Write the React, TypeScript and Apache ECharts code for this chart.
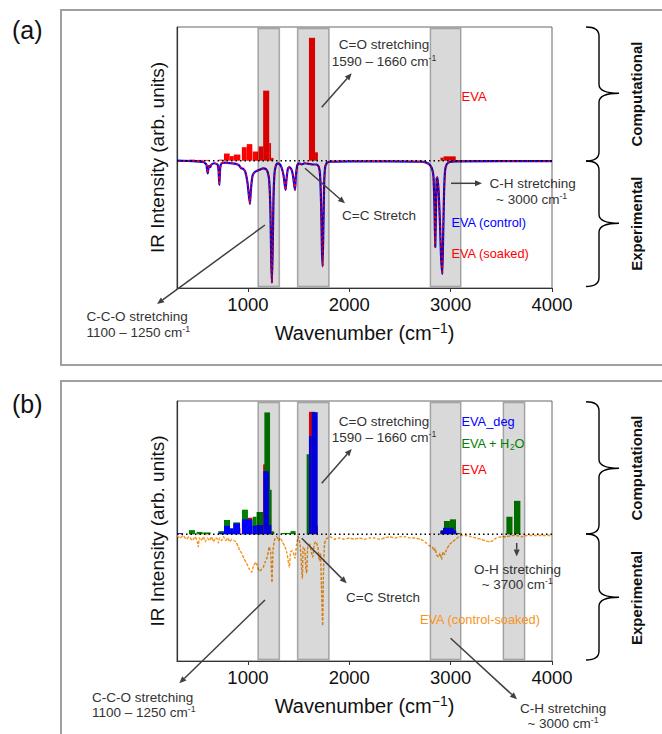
import React, { useEffect, useRef } from 'react';
import * as echarts from 'echarts';

const FF = "'Liberation Sans', Arial, Helvetica, sans-serif";

// x ticks
const xTicks = [1000, 2000, 3000, 4000];

// shaded bands [start, end] in cm-1
const bandsA = [[1100, 1310], [1490, 1800], [2800, 3100]];
const bandsB = [[1100, 1310], [1490, 1800], [2800, 3100], [3520, 3730]];

// computational bars [x0, x1, intensity]
const evaBars = [
  [420, 480, 0.8], [500, 560, 0.6], [560, 625, 0.6], [708, 764, 0.8], [764, 820, 5.6], [820, 860, 3.6],
  [860, 925, 4.8], [940, 988, 10.6], [988, 1043, 13], [1047, 1102, 7.2], [1106, 1150, 11.2], [1150, 1210, 55],
  [1210, 1228, 13.8], [1228, 1252, 2.2], [1602, 1662, 96.5], [1662, 1690, 6.6], [2900, 2930, 2.4], [2930, 3050, 3.4],
];
const h2oBars = [
  [418, 477, 3.2], [494, 553, 1.8], [560, 632, 1.4], [708, 764, 2.4], [764, 823, 11.2], [823, 856, 4.5],
  [856, 922, 9.3], [941, 1000, 19.3], [1000, 1043, 10], [1047, 1085, 13.8], [1085, 1150, 17.5], [1162, 1218, 96],
  [1218, 1234, 35], [1234, 1260, 2], [1330, 1420, 1], [1420, 1470, 2.4], [1579, 1602, 63], [2902, 2934, 3.2],
  [2934, 2993, 10.4], [2993, 3053, 11.7], [3053, 3090, 1], [3550, 3610, 13.8], [3625, 3688, 26.3],
];
const degBars = [
  [300, 360, 0.8], [708, 764, 1.2], [764, 823, 6.6], [823, 856, 4.5], [856, 922, 8.5], [941, 1043, 11.7],
  [1047, 1085, 6.6], [1085, 1150, 7.2], [1152, 1208, 49.6], [1208, 1230, 7.2], [1602, 1629, 77.5], [1629, 1688, 96.2],
  [2900, 2925, 2.5], [2925, 3030, 5], [3030, 3055, 3],
];

// experimental spectra [wavenumber, intensity]
const expControl = [
  [300, 0], [450, -0.3], [560, -1], [590, -3], [598, -8], [604, -10], [610, -6], [618, -4], [628, -5], [640, -3],
  [670, -2], [700, -3], [710, -8], [718, -19], [726, -6], [740, -2], [780, -1.5], [830, -2], [880, -2.5], [910, -3.5],
  [935, -6], [955, -6.5], [975, -9], [995, -17], [1010, -28], [1020, -34], [1030, -22], [1045, -12], [1065, -9],
  [1090, -8], [1120, -7], [1150, -6], [1175, -6.5], [1195, -9], [1210, -16], [1222, -40], [1230, -80], [1237, -96],
  [1244, -70], [1252, -30], [1262, -10], [1275, -4], [1290, -2], [1310, -2.5], [1330, -5], [1350, -11], [1365, -20],
  [1372, -23], [1380, -15], [1395, -6], [1410, -5], [1430, -7], [1445, -12], [1458, -20], [1465, -23], [1472, -13],
  [1485, -4], [1500, -2], [1530, -3], [1560, -2], [1600, -2.5], [1640, -3], [1680, -3], [1700, -5], [1712, -12],
  [1722, -35], [1730, -70], [1737, -83], [1744, -55], [1752, -18], [1762, -5], [1780, -1.5], [1820, -0.8],
  [2000, -0.5], [2400, -0.5], [2700, -0.8], [2760, -1.5], [2790, -3], [2815, -6], [2830, -12], [2840, -35],
  [2848, -68], [2855, -40], [2862, -14], [2870, -13], [2882, -25], [2895, -50], [2905, -75], [2918, -89],
  [2926, -60], [2935, -25], [2945, -8], [2960, -3], [2990, -1], [3050, -0.5], [4000, -0.3],
];
const expSoaked = expControl;

const expDiff = [
  [300, -1], [330, -3], [360, -1], [390, -4], [420, -2], [450, -5], [480, -2], [500, -6], [510, -10], [520, -3],
  [540, -5], [560, -2], [580, -6], [600, -3], [620, -5], [640, -2], [660, -6], [680, -3], [700, -4], [708, -7],
  [720, -3], [740, -5], [760, -2], [780, -5], [800, -3], [820, -6], [840, -4], [860, -5], [880, -6], [905, -10],
  [920, -13], [938, -15], [960, -19], [987, -23], [1010, -27], [1037, -30], [1055, -25], [1080, -22], [1095, -26],
  [1112, -29], [1130, -28], [1152, -26], [1170, -22], [1191, -18], [1210, -10], [1225, -15], [1237, -38],
  [1248, -12], [1265, -4], [1283, -2], [1300, -5], [1320, -3], [1340, -6], [1366, -10], [1385, -15], [1408, -26],
  [1420, -14], [1440, -13], [1464, -19], [1480, -8], [1497, -2], [1515, -8], [1530, -28], [1537, -35], [1545, -10],
  [1560, -12], [1572, -28], [1579, -31], [1590, -10], [1610, -8], [1625, -14], [1639, -18], [1655, -8], [1670, -6],
  [1690, -10], [1704, -21], [1715, -15], [1725, -40], [1737, -72], [1745, -30], [1755, -8], [1770, -4], [1790, -3],
  [1810, -2], [1850, -4], [1900, -3], [1950, -4], [2000, -3], [2050, -4], [2100, -3], [2150, -4], [2200, -3],
  [2250, -3], [2300, -4], [2350, -3], [2400, -2], [2450, -3], [2500, -2], [2550, -2], [2600, -3], [2650, -3],
  [2700, -4], [2730, -5], [2760, -7], [2790, -9], [2820, -10], [2835, -13], [2846, -11], [2860, -16], [2880, -18],
  [2895, -15], [2911, -20], [2925, -14], [2940, -16], [2960, -12], [2990, -8], [3020, -6], [3050, -4], [3080, -2],
  [3100, -1], [3150, -1], [3200, -2], [3250, -3], [3300, -4], [3350, -5.5], [3388, -6], [3420, -5], [3450, -3],
  [3500, -2], [3550, -2], [3600, -1], [3650, -1], [3700, -2], [3750, -1], [3800, -1], [3900, -1], [4000, -1],
];

const RED = '#ff0000';
const BLUE = '#0000ff';
const GREEN = '#007f00';
const ORANGE = '#f7941d';
const INK = '#333333';

const barSeries = (data: number[][], color: string, gi: number, z: number) => ({
  type: 'custom',
  xAxisIndex: gi,
  yAxisIndex: gi,
  z,
  data,
  encode: { x: [0, 1], y: 2 },
  renderItem: (params: any, api: any) => {
    const p0 = api.coord([api.value(0), 0]);
    const p1 = api.coord([api.value(1), api.value(2)]);
    return {
      type: 'rect',
      shape: { x: p0[0], y: p1[1], width: p1[0] - p0[0], height: p0[1] - p1[1] },
      style: { fill: color },
    };
  },
});

const bandSeries = (bands: number[][], gi: number) => ({
  type: 'custom',
  xAxisIndex: gi,
  yAxisIndex: gi,
  z: 10,
  data: bands.map((b) => [b[0], b[1], 0]),
  encode: { x: [0, 1], y: 2 },
  renderItem: (params: any, api: any) => {
    const cs = params.coordSys;
    const p0 = api.coord([api.value(0), 0]);
    const p1 = api.coord([api.value(1), 0]);
    return {
      type: 'rect',
      shape: { x: p0[0], y: cs.y + 1.5, width: p1[0] - p0[0], height: cs.height - 3 },
      style: { fill: 'rgba(0,0,0,0.15)', stroke: 'rgba(0,0,0,0.3)', lineWidth: 1.5 },
    };
  },
});

const lineSeries = (data: number[][], color: string, gi: number, width: number, type: any, z: number) => ({
  type: 'line',
  xAxisIndex: gi,
  yAxisIndex: gi,
  z,
  data,
  showSymbol: false,
  smooth: 0.15,
  lineStyle: { color, width, type },
});

const baseline = (gi: number) => ({
  type: 'line',
  xAxisIndex: gi,
  yAxisIndex: gi,
  z: 6,
  data: [[300, 0], [4000, 0]],
  showSymbol: false,
  lineStyle: { color: '#000', width: 1.5, type: [1.5, 3] },
});

const richFor = (color: string, size: number) => ({
  sup: { fontSize: size * 0.65, fill: color, fontFamily: FF, verticalAlign: 'top', lineHeight: size * 0.7 },
  sub: { fontSize: size * 0.65, fill: color, fontFamily: FF, verticalAlign: 'bottom', lineHeight: size * 0.7 },
});

const txt = (x: number, y: number, text: string, o: any = {}) => {
  const size = o.size ?? 13.5;
  const color = o.color ?? INK;
  return {
    type: 'text',
    x,
    y,
    z: 100,
    rotation: o.rotation ?? 0,
    style: {
      text,
      fontSize: size,
      fontFamily: FF,
      fontWeight: o.weight ?? 'normal',
      fill: color,
      align: o.align ?? 'left',
      textAlign: o.align ?? 'left',
      verticalAlign: 'middle',
      textVerticalAlign: 'middle',
      lineHeight: size * 1.15,
      rich: richFor(color, size),
    },
  };
};

const arrow = (x1: number, y1: number, x2: number, y2: number) => {
  const a = Math.atan2(y2 - y1, x2 - x1);
  const L = 7;
  const W = 3;
  const bx = x2 - L * Math.cos(a);
  const by = y2 - L * Math.sin(a);
  const px = -Math.sin(a);
  const py = Math.cos(a);
  return [
    { type: 'line', z: 100, shape: { x1, y1, x2: bx, y2: by }, style: { stroke: '#404040', lineWidth: 1.5 } },
    {
      type: 'polygon',
      z: 100,
      shape: { points: [[x2, y2], [bx + W * px, by + W * py], [bx - W * px, by - W * py]] },
      style: { fill: '#404040' },
    },
  ];
};

let braceRegistered = false;
const registerBrace = () => {
  if (braceRegistered) return;
  const Brace = (echarts.graphic as any).extendShape({
    shape: { x: 0, xv: 0, xt: 0, y1: 0, y2: 0, ym: 0 },
    buildPath(ctx: any, s: any) {
      const r = 9;
      ctx.moveTo(s.x, s.y1);
      ctx.quadraticCurveTo(s.xv, s.y1, s.xv, s.y1 + r);
      ctx.lineTo(s.xv, s.ym - r);
      ctx.quadraticCurveTo(s.xv, s.ym, s.xt, s.ym);
      ctx.moveTo(s.xt, s.ym);
      ctx.quadraticCurveTo(s.xv, s.ym, s.xv, s.ym + r);
      ctx.lineTo(s.xv, s.y2 - r);
      ctx.quadraticCurveTo(s.xv, s.y2, s.x, s.y2);
    },
  });
  (echarts.graphic as any).registerShape('brace', Brace);
  braceRegistered = true;
};

const brace = (y1: number, ym: number, y2: number) => ({
  type: 'brace',
  z: 100,
  shape: { x: 586, xv: 599, xt: 619, y1, y2, ym },
  style: { stroke: '#000', fill: 'none', lineWidth: 1.4 },
});

export default function App() {
  const ref = useRef<HTMLDivElement>(null);
  useEffect(() => {
    if (!ref.current) return;
    registerBrace();
    const chart = echarts.init(ref.current, undefined, { renderer: 'svg' });

    const grids = [
      { left: 177, top: 27, width: 375, height: 261 },
      { left: 177, top: 401, width: 375, height: 260 },
    ].map((g) => ({ ...g, show: true, borderColor: '#666', borderWidth: 1, backgroundColor: 'transparent' }));

    const xAxes = [0, 1].map((i) => ({
      gridIndex: i,
      type: 'value',
      min: 300,
      max: 4000,
      axisLine: { show: true, onZero: false, lineStyle: { color: '#333', width: 1.2 } },
      axisTick: { show: true, length: 4, customValues: xTicks, lineStyle: { color: '#333' } },
      axisLabel: {
        customValues: xTicks,
        fontSize: 18.5,
        color: '#111',
        fontFamily: FF,
        margin: 7,
        formatter: (v: number) => String(v),
      },
      splitLine: { show: false },
      name: 'Wavenumber (cm{sup|−1})',
      nameLocation: 'middle',
      nameGap: 33,
      nameTextStyle: {
        fontSize: 20,
        color: '#111',
        fontFamily: FF,
        lineHeight: 24,
        rich: { sup: { fontSize: 14, color: '#111', fontFamily: FF, verticalAlign: 'top', lineHeight: 14 } },
      },
    }));

    const yAxes = [0, 1].map((i) => ({
      gridIndex: i,
      type: 'value',
      min: -100,
      max: 105,
      axisLine: { show: true, onZero: false, lineStyle: { color: '#333', width: 1.2 } },
      axisTick: { show: false },
      axisLabel: { show: false },
      splitLine: { show: false },
      name: 'IR Intensity (arb. units)',
      nameLocation: 'middle',
      nameGap: 10,
      nameTextStyle: { fontSize: 19, color: '#111', fontFamily: FF },
    }));

    const series: any[] = [
      // panel (a)
      barSeries(evaBars, RED, 0, 2),
      lineSeries(expControl, BLUE, 0, 2.2, 'solid', 3),
      lineSeries(expSoaked, RED, 0, 1.2, [3, 2], 4),
      baseline(0),
      bandSeries(bandsA, 0),
      // panel (b)
      barSeries(evaBars, RED, 1, 2),
      barSeries(h2oBars, GREEN, 1, 2),
      barSeries(degBars, BLUE, 1, 2),
      lineSeries(expDiff, ORANGE, 1, 1.4, [3, 1.5], 4),
      baseline(1),
      bandSeries(bandsB, 1),
    ];

    const elements: any[] = [
      { type: 'rect', z: 1, shape: { x: 61, y: 10, width: 720, height: 355 }, style: { fill: 'none', stroke: '#a0a0a0', lineWidth: 2 } },
      { type: 'rect', z: 1, shape: { x: 61, y: 381, width: 720, height: 400 }, style: { fill: 'none', stroke: '#a0a0a0', lineWidth: 2 } },
      txt(12, 30, '(a)', { size: 25, color: '#111' }),
      txt(12, 404, '(b)', { size: 25, color: '#111' }),

      // panel (a) annotations
      txt(384, 44.5, 'C=O stretching', { align: 'center' }),
      txt(384, 61, '1590 – 1660 cm{sup|-1}', { align: 'center' }),
      ...arrow(321.7, 107.3, 351.7, 73.3),
      txt(461.5, 96, 'EVA', { color: RED, size: 13 }),
      txt(342, 215.3, 'C=C Stretch'),
      ...arrow(305, 168.3, 345, 203.3),
      txt(489.5, 183, 'C-H stretching'),
      txt(496, 199, '~ 3000 cm{sup|-1}'),
      ...arrow(451, 183.3, 482, 183.3),
      txt(451.5, 222, 'EVA (control)', { color: BLUE, size: 12.8 }),
      txt(451.5, 253.3, 'EVA (soaked)', { color: RED, size: 12.8 }),
      txt(86.5, 316, 'C-C-O stretching'),
      txt(86.5, 332, '1100 – 1250 cm{sup|-1}'),
      ...arrow(265, 225, 157, 304),
      txt(636, 94, 'Computational', { size: 15, weight: 'bold', color: '#111', align: 'center', rotation: Math.PI / 2 }),
      txt(636, 223.7, 'Experimental', { size: 15, weight: 'bold', color: '#111', align: 'center', rotation: Math.PI / 2 }),
      brace(27, 93.3, 161),
      brace(161, 223.3, 286.5),

      // panel (b) annotations
      txt(384, 421, 'C=O stretching', { align: 'center' }),
      txt(384, 437.5, '1590 – 1660 cm{sup|-1}', { align: 'center' }),
      ...arrow(321.7, 483.3, 351.7, 449),
      txt(461.5, 421, 'EVA_deg', { color: BLUE, size: 12.8 }),
      txt(461.5, 443.5, 'EVA + H{sub|2}O', { color: GREEN, size: 12.8 }),
      txt(461.5, 469.3, 'EVA', { color: RED, size: 13 }),
      txt(346, 597.3, 'C=C Stretch'),
      ...arrow(301.7, 538.3, 346.7, 583.3),
      txt(474, 569.3, 'O-H stretching'),
      txt(481.7, 584, '~ 3700 cm{sup|-1}'),
      ...arrow(516.7, 543, 516.7, 556.5),
      txt(420, 619.3, 'EVA (control-soaked)', { color: ORANGE, size: 12.8 }),
      txt(92, 697, 'C-C-O stretching'),
      txt(92, 712.5, '1100 – 1250 cm{sup|-1}'),
      ...arrow(265, 600, 179.3, 683.3),
      txt(520, 708, 'C-H stretching'),
      txt(527.4, 723, '~ 3000 cm{sup|-1}'),
      ...arrow(450.6, 638.3, 517, 699.3),
      txt(636, 468, 'Computational', { size: 15, weight: 'bold', color: '#111', align: 'center', rotation: Math.PI / 2 }),
      txt(636, 598, 'Experimental', { size: 15, weight: 'bold', color: '#111', align: 'center', rotation: Math.PI / 2 }),
      brace(401.7, 468.3, 534),
      brace(534, 597.3, 660),
    ];

    chart.setOption({
      animation: false,
      backgroundColor: '#ffffff',
      textStyle: { fontFamily: FF },
      grid: grids,
      xAxis: xAxes,
      yAxis: yAxes,
      series,
      graphic: { elements },
    } as any);

    return () => chart.dispose();
  }, []);

  return (
    <div
      ref={ref}
      style={{ position: 'absolute', left: 0, top: 0, width: 662, height: 734, background: '#fff' }}
    />
  );
}
